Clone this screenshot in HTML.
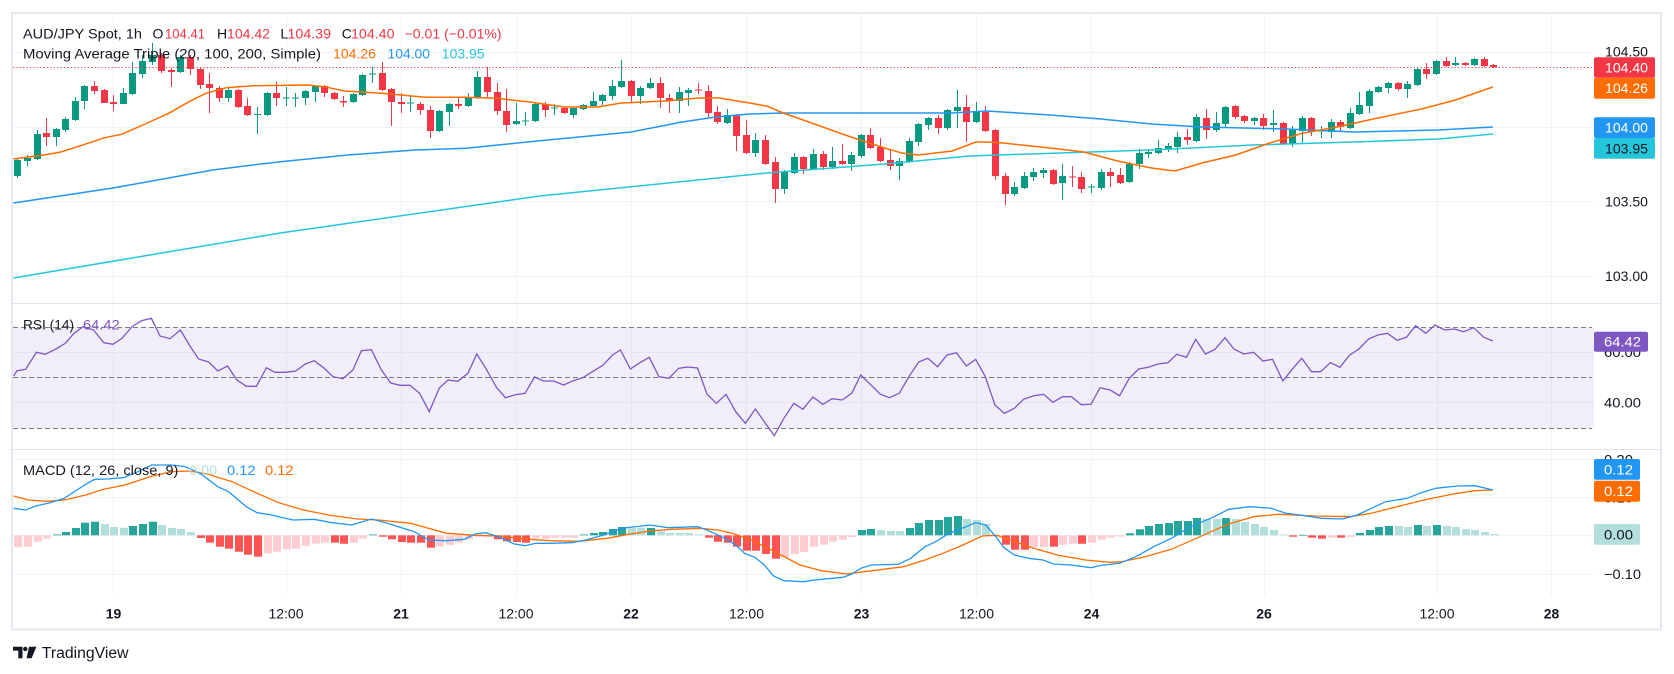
<!DOCTYPE html>
<html><head><meta charset="utf-8">
<style>
html,body{margin:0;padding:0;background:#fff;}
body{width:1674px;height:674px;overflow:hidden;}
svg{display:block;font-family:"Liberation Sans",Arial,sans-serif;}
</style></head><body>
<svg id="c" width="1674" height="674" viewBox="0 0 1674 674" xmlns="http://www.w3.org/2000/svg">
<rect width="1674" height="674" fill="#fff"/>
<!-- gridlines -->
<g stroke="#f0f3fa" stroke-width="1" fill="none">
<path d="M113.5 14V595M286.5 14V595M401.5 14V595M516.5 14V595M631.5 14V595M746.5 14V595M861.5 14V595M976.5 14V595M1091.5 14V595M1264.5 14V595M1437.5 14V595M1551.5 14V595"/>
<path d="M13 52.5H1594M13 127.5H1594M13 201.5H1594M13 276.5H1594M13 352.5H1594M13 402.5H1594M13 459.5H1594M13 497.5H1594M13 535.5H1594M13 574.5H1594"/>
</g>
<!-- RSI band -->
<rect x="13" y="327.5" width="1581" height="101" fill="rgba(126,87,194,0.1)"/>
<g stroke="#787b86" stroke-width="1" stroke-dasharray="5 3" fill="none">
<path d="M13 327.5H1592M13 377.5H1592M13 428.5H1592"/>
</g>
<!-- candles -->
<g id="cand"></g>
<!-- MAs -->
<polyline fill="none" stroke="#26c6da" stroke-width="1.5" points="13.4,278 280.3,233 539.7,196 766.5,173 884.7,164 969.2,156 1059.7,153 1151.4,150 1252.7,145 1354,142 1438.5,139 1492.9,134"/>
<polyline fill="none" stroke="#2196f3" stroke-width="1.5" points="13.4,203 111.4,188.3 212.7,170 280.3,161.7 347.8,155 415.4,150 466.1,148.3 539.7,140.7 631.4,132 682,122 715.8,117 749.6,114 783.4,113 952.3,113 986.1,111 1050,115 1100.7,119 1151.4,124 1202,127 1286.5,129 1354,132 1438.5,130 1492.9,127"/>
<polyline fill="none" stroke="#ff6d00" stroke-width="1.5" points="13.4,159 43.8,155 60.7,152 77.6,146.7 104.6,137.7 121.5,134.3 145.1,124 168.8,113.3 189,101.7 206,93.3 226.2,87.7 253.2,85.7 307.3,85 324.2,86.7 344.5,91 381.6,93.3 425.5,97.3 466.1,97.3 496.5,98.3 530,102 563.8,107 597.6,107 621.2,103 665.1,101 698.9,98 719.2,98 749.6,103 766.5,106 783.4,113 817.2,125 850.9,137 884.7,148 901.6,153 918.5,155 952.3,151 975.9,142 986.1,142 1003,143 1050,148 1083.8,152 1117.6,161 1151.4,168 1175,171 1202,163 1235.8,155 1269.6,143 1303.4,133 1337.2,127 1377.7,118 1421.6,109 1455.4,100 1492.9,87"/>
<!-- current price line -->
<path d="M13 67.5H1594" stroke="#f23645" stroke-width="1" stroke-dasharray="1.2 2.2"/>
<!-- RSI -->
<polyline fill="none" stroke="#7e57c2" stroke-width="1.3" points="13.6,376 17,370.7 25.7,369.3 36.4,352.3 45,354.3 55.4,349.3 65.4,343.3 74,333.3 82.9,326.7 93.6,330 103.6,342.7 112.9,344.3 122,338.3 132,326.7 141.4,320.7 151.4,318.3 160,336 170,338.7 180.4,330 189.3,345 198.6,359 208.6,362 217.9,371 227.5,366 237,380 246.4,386.3 256.4,386.3 266.4,367.7 275,372.3 285.7,372.3 295.7,371 305.4,364 314.3,360.7 324.3,368.3 332.9,376.7 342.9,378.7 352.9,370 361.4,350.7 371.4,349.7 381.4,370 390.7,383 400,385.3 410,385.3 419.6,393.3 429.3,411.7 439.3,388 448.2,380 457.9,381.3 467.9,373.3 476.8,354 486.4,369.3 496.4,387.3 505.4,397.7 514.3,395 525,393.3 534.6,377 543.6,381 553.6,381 563.6,385 573.2,380.7 582.9,377.7 592.9,371.3 602.9,365.3 612.5,355 620.4,350 630.4,369 640,362.7 649.3,357.3 658.9,376.7 668.9,378.3 678.6,368.3 687.5,367 697.5,368 707.1,394.3 716.4,403.3 726,394.3 735.7,411.7 745.4,423.3 755.4,409 765,422.7 774.3,435.7 783.9,418.3 793.9,403.3 802.9,409.3 812.9,397 822.9,404.3 832.1,398.7 842.1,400 851.8,393.3 860.7,375 870.7,384.7 880,394 889.3,397.7 899.3,393.3 908.9,376.7 918.6,362 927.9,358.3 937.5,366.7 947.1,355 956.4,352.7 966.4,366 975.7,359.3 985,376 995,405 1004.3,413.3 1014.3,408.3 1023.6,399.3 1033.9,395.7 1043.6,394.3 1052.9,402.3 1062.5,396.7 1071.4,396.7 1081.4,404.7 1091,404.3 1100,387.7 1110,390 1119.6,395.7 1129.3,378.3 1138.6,369 1148.2,367.3 1157.9,364 1167.9,362.7 1176.8,354.3 1186.4,357.3 1195.7,339.3 1205.4,354 1215,349.3 1225,337.7 1233.9,349 1243.6,354 1253.6,352.3 1262.9,361 1272.5,359.3 1282.9,381 1292.1,369.3 1301.8,358.3 1311.4,371.7 1320.7,371.7 1330.4,362.7 1340,367.3 1349.3,355.3 1358.9,349 1368.6,339 1377.9,335 1387.5,333.3 1397.1,340.3 1406.4,337.3 1415.7,325.7 1425.7,333.3 1435,325 1444.6,330 1454.3,329 1463.6,331.7 1473.6,327.7 1483.9,337.3 1492.9,341"/>
<!-- MACD histogram -->
<g id="hist"></g>
<polyline fill="none" stroke="#ff6d00" stroke-width="1.3" points="13.6,496 28.6,500 46.4,501.3 64.3,500 85.7,495 103.6,489.3 125,485 150,476.7 171.4,471.7 189.3,471 207.1,474 232.1,481.7 253.6,491.7 278.6,502.7 303.6,510 328.6,515 357.1,519 378.6,520 410.7,523.3 446.4,533.3 475,535.3 500,536 528.6,539.3 550,540.7 578.6,541.3 607.1,538.3 628.6,534.3 650,531 671.4,529.3 700,528.3 717.9,530 732.1,533.3 750,539.3 771.4,550 800,565 821.4,570.7 846.4,574 864.3,571.7 903.6,566.7 925,560 942.9,553.3 960.7,546 982.1,536 996.4,535.3 1010.7,540 1028.6,546.7 1057.1,555 1085.7,560 1110,562.3 1121.4,561.7 1142.9,557.3 1171.4,549.3 1200,536.7 1228.6,524 1253.6,516.7 1278.6,514.3 1314.3,516 1350,516.7 1371.4,513.3 1403.6,505 1428.6,499 1457.1,493.3 1475,490.7 1492.9,490"/>
<polyline fill="none" stroke="#2196f3" stroke-width="1.3" points="13.6,508.3 25.7,510 35.7,506 50,502.7 64.3,498.3 76.8,490 87.5,483.3 94.6,479.3 107,479 123.2,477.7 135.7,472.7 151.8,465 171.4,465 185.7,466.7 200,473.3 217.9,486.7 228.6,491.7 246.4,506.7 257,512.7 271.4,515 292.9,520 314.3,519.3 332,522.7 351.8,525 371.4,519 385.7,522.7 400,527.3 414.3,531.7 428.6,540 446.4,540.7 464.3,539.3 475,534 485.7,532.7 500,537.3 514.3,544 525,545.7 535.7,543.3 550,543.3 571.4,542.7 585.7,540 603.6,535 621.4,528.3 650,525 667.9,527.7 698.2,526.7 710.7,531.7 725,538.3 735.7,545 744.6,553.3 755.4,557.7 764.3,565 773.2,575.7 783.9,580.7 803.6,581.7 814.3,580 832.1,578.3 842.9,577.3 851.8,574 860.7,568.3 871.4,565 898.2,564.3 910.7,558.3 925,546.7 935.7,541.7 946.4,535 957.1,530 966.1,526.7 975.7,522.7 985.7,525 996.4,537.3 1003.6,547.3 1014.3,555 1028.6,558.3 1042.9,560 1053.6,564 1071.4,565 1091,567.7 1100,565.5 1119.6,563.3 1135.7,556.7 1153.6,546.7 1171.4,538.3 1189.3,527.3 1214.3,516.7 1228.6,509.3 1250,506.7 1271.4,508.3 1285.7,513.3 1300,515 1321.4,518.3 1342.9,519 1357.1,515 1385.7,501.7 1407.1,498.3 1421.4,492.7 1435.7,488.3 1457.1,486 1475,485.7 1492.9,490"/>
<!-- separators and border -->
<path d="M13 303.5H1660M13 449.5H1660" stroke="#e0e3eb" stroke-width="1"/>
<rect x="12" y="13" width="1649" height="616.5" fill="none" stroke="#e6e8ef" stroke-width="2"/>
<!-- axis labels -->
<g font-size="14" fill="#131722">
<text x="1605" y="56.7" textLength="43" lengthAdjust="spacingAndGlyphs">104.50</text>
<text x="1605" y="206.7" textLength="43" lengthAdjust="spacingAndGlyphs">103.50</text>
<text x="1605" y="281" textLength="43" lengthAdjust="spacingAndGlyphs">103.00</text>
<text x="1604" y="357" textLength="37" lengthAdjust="spacingAndGlyphs">60.00</text>
<text x="1604" y="407.5" textLength="37" lengthAdjust="spacingAndGlyphs">40.00</text>
<text x="1604" y="464.3" textLength="29" lengthAdjust="spacingAndGlyphs">0.20</text>
<text x="1604" y="502.3" textLength="29" lengthAdjust="spacingAndGlyphs">0.10</text>
<text x="1604" y="579" textLength="37" lengthAdjust="spacingAndGlyphs">−0.10</text>
</g>
<!-- value boxes -->
<rect x="1594" y="57.3" width="61" height="20.4" rx="2" fill="#f23645"/>
<rect x="1594" y="77.7" width="61" height="21" rx="2" fill="#ff6d00"/>
<rect x="1594" y="117.3" width="61" height="20.7" rx="2" fill="#2196f3"/>
<rect x="1594" y="138" width="61" height="20.7" rx="2" fill="#26c6da"/>
<rect x="1594" y="331.7" width="54" height="20" rx="2" fill="#7e57c2"/>
<rect x="1594" y="459" width="46" height="20.7" rx="2" fill="#2196f3"/>
<rect x="1594" y="480.7" width="46" height="21" rx="2" fill="#ff6d00"/>
<rect x="1594" y="524" width="46" height="20.7" rx="2" fill="#b2dfdb"/>
<g font-size="14">
<text x="1605" y="72.5" fill="#fff" textLength="43" lengthAdjust="spacingAndGlyphs">104.40</text>
<text x="1605" y="93.2" fill="#fff" textLength="43" lengthAdjust="spacingAndGlyphs">104.26</text>
<text x="1605" y="132.7" fill="#fff" textLength="43" lengthAdjust="spacingAndGlyphs">104.00</text>
<text x="1605" y="153.3" fill="#131722" textLength="43" lengthAdjust="spacingAndGlyphs">103.95</text>
<text x="1604" y="346.7" fill="#fff" textLength="37" lengthAdjust="spacingAndGlyphs">64.42</text>
<text x="1604" y="474.3" fill="#fff" textLength="29" lengthAdjust="spacingAndGlyphs">0.12</text>
<text x="1604" y="496.2" fill="#fff" textLength="29" lengthAdjust="spacingAndGlyphs">0.12</text>
<text x="1604" y="539.3" fill="#131722" textLength="29" lengthAdjust="spacingAndGlyphs">0.00</text>
</g>
<!-- legends -->
<g font-size="14" fill="#131722">
<text x="23" y="38.3" textLength="119" lengthAdjust="spacingAndGlyphs">AUD/JPY Spot, 1h</text>
<text x="152.5" y="38.3">O</text>
<text x="165" y="38.3" fill="#f23645" textLength="40" lengthAdjust="spacingAndGlyphs">104.41</text>
<text x="217" y="38.3">H</text>
<text x="227" y="38.3" fill="#f23645" textLength="43" lengthAdjust="spacingAndGlyphs">104.42</text>
<text x="280.4" y="38.3">L</text>
<text x="287.5" y="38.3" fill="#f23645" textLength="43.5" lengthAdjust="spacingAndGlyphs">104.39</text>
<text x="341.8" y="38.3">C</text>
<text x="351" y="38.3" fill="#f23645" textLength="43.5" lengthAdjust="spacingAndGlyphs">104.40</text>
<text x="404.6" y="38.3" fill="#f23645" textLength="97" lengthAdjust="spacingAndGlyphs">−0.01 (−0.01%)</text>
<text x="23" y="58.3" textLength="298" lengthAdjust="spacingAndGlyphs">Moving Average Triple (20, 100, 200, Simple)</text>
<text x="333" y="58.3" fill="#ff6d00" textLength="43" lengthAdjust="spacingAndGlyphs">104.26</text>
<text x="387.5" y="58.3" fill="#2196f3" textLength="42.5" lengthAdjust="spacingAndGlyphs">104.00</text>
<text x="441.8" y="58.3" fill="#26c6da" textLength="42.8" lengthAdjust="spacingAndGlyphs">103.95</text>
<text x="23" y="329.3" textLength="51" lengthAdjust="spacingAndGlyphs">RSI (14)</text>
<text x="83" y="329.3" fill="#7e57c2" textLength="36.7" lengthAdjust="spacingAndGlyphs">64.42</text>
<text x="23" y="475" textLength="155.4" lengthAdjust="spacingAndGlyphs">MACD (12, 26, close, 9)</text>
<text x="189.3" y="475" fill="#b2dfdb" textLength="27.7" lengthAdjust="spacingAndGlyphs">0.00</text>
<text x="227" y="475" fill="#2196f3" textLength="28.7" lengthAdjust="spacingAndGlyphs">0.12</text>
<text x="265" y="475" fill="#ff6d00" textLength="28.6" lengthAdjust="spacingAndGlyphs">0.12</text>
</g>
<!-- time axis -->
<g font-size="14" fill="#131722" text-anchor="middle">
<text x="113.5" y="618.3" font-weight="bold">19</text>
<text x="286" y="618.3">12:00</text>
<text x="401" y="618.3" font-weight="bold">21</text>
<text x="516" y="618.3">12:00</text>
<text x="631" y="618.3" font-weight="bold">22</text>
<text x="746.5" y="618.3">12:00</text>
<text x="861.5" y="618.3" font-weight="bold">23</text>
<text x="976.5" y="618.3">12:00</text>
<text x="1091.5" y="618.3" font-weight="bold">24</text>
<text x="1264" y="618.3" font-weight="bold">26</text>
<text x="1437" y="618.3">12:00</text>
<text x="1551.5" y="618.3" font-weight="bold">28</text>
</g>
<!-- TradingView logo -->
<g fill="#131722">
<path d="M13 646.7H22.5V658.3H18.3V650.6H13Z"/>
<circle cx="25.3" cy="649" r="2.2"/>
<path d="M29 646.7H36.4L31.6 658.3H26.6Z"/>
<text x="41.8" y="658" font-size="15.5" textLength="86.7" lengthAdjust="spacingAndGlyphs">TradingView</text>
</g>
</svg>
<script>
(function(){
var ns="http://www.w3.org/2000/svg";
var C=[[176,160,158,178],[161,158,155,166],[159,134,130,160],[133,137,118,146],[137,129,128,146],[130,119,117,132],[120,101,97,121],[101,86,85,109],[86,91,81,94],[90,103,89,103],
[102,104,95,111],[104,93,88,104],[94,73,62,95],[74,61,55,78],[62,55,43,65],[55,71,53,73],[70,72,68,87],[72,57,55,73],[57,69,55,75],[69,85,68,89],
[84,88,73,113],[88,98,86,102],[98,90,88,102],[90,107,89,108],[106,115,98,116],[114.5,114,107,134],[115,93,92,116],[93,98,82,106],[98.5,97.5,87,106],[98.5,97.5,93,107],
[98,91,90,105],[92,86,85,102],[86,93,85,97],[93,99,92,100],[101,102.5,96,107],[102,94,93,103],[95,75,74,96],[74.5,73.5,67,83],[73,90,62,91],[89,102,88,126],
[102,104,93,113],[103.5,102.5,95,112],[104,110,102,115],[110,131,106,138],[131,111,110,132],[112,104,103,126],[104,106,97,109],[106,97,93,107],[98,77,71,99],[77,92,67,97],
[92,111,83,115],[111,125,89,132],[124,121,103,125],[121.5,120.5,112,126],[121,104,103,122],[104,110,102,117],[108.5,107.5,104,115],[108,113,107,114],[115,108,106,118],[109,105,104,110],
[106,101,92,107],[101,95,94,105],[96,86,80,100],[87,81,60,88],[81,96,80,102],[96,88,86,104],[88,83,78,89],[83,98,77,108],[98,101,94,113],[101,92,87,113],
[93,90,88,106],[89.5,90.5,83,94],[91,113,85,118],[112,122,106,124],[123,115,109,124],[115,136,114,151],[135,153,120,154],[153,140,133,157],[140,164,135,165],[162,189,157,203],
[189,172,170,194],[173,157,153,174],[157,169,156,174],[169,154,149,170],[154,167,151,170],[167,161,147,169],[161,164,144,165],[164,155,152,171],[156,135,134,158],[135,148,128,149],
[147,161,138,162],[160,166,149,170],[166,161,158,180],[162,141,138,163],[142,124,123,146],[125,118,117,130],[118,128,115,134],[128,110,109,130],[111,107,90,128],[107,122,95,142],
[122,112,102,123],[112,131,106,132],[130,176,129,180],[176,194,173,205],[194,187,182,196],[188,176,172,189],[177,172,168,181],[173,170,168,178],[170,184,169,185],[183,176,164,200],
[176.5,177.5,166,187],[177,189,172,193],[187.5,186.5,184,193],[188,172,169,190],[172,176,168,187],[175,183,168,184],[182,164,162,183],[164,153,149,169],[154,152,149,158],[153,148,140,154],
[149,146,143,152],[147,137,132,153],[137,140,129,145],[141,117,114,142],[118,130,109,139],[130,123,112,132],[124,107,106,127],[106,117,105,119],[116,121,115,123],[121,118,117,125],
[118,126,114,130],[125,123,110,132],[123,144,122,145],[144,130,126,147],[131,118,116,144],[118,132,117,136],[131.5,130.5,126,138],[132,122,119,138],[122,127,120,132],[128,113,108,129],
[114,105,92,115],[106,91,89,113],[92,87,86,93],[88,83,82,93],[83,89,82,91],[89,84,81,98],[85,69,68,86],[69,74,63,79],[74,61,60,75],[61,66,57,67],
[65,63,57,66],[63,65,62,66],[65,59,58,66],[59,66,57,67],[65,67,64,68]];
var H=[[547,'r'],[546.7,'r'],[541.7,'r'],[538.7,'r'],[534.5,'G'],[532,'G'],[528,'G'],[522.7,'G'],[521.7,'G'],[524,'g'],
[527,'g'],[527.7,'g'],[526,'G'],[524,'G'],[521.7,'G'],[525,'g'],[528,'g'],[529,'g'],[532,'g'],[538,'R'],
[542.7,'R'],[546.7,'R'],[548.7,'R'],[551.7,'R'],[554.7,'R'],[556.7,'R'],[553.3,'r'],[551.7,'r'],[549.3,'r'],[548.7,'r'],
[546,'r'],[543.7,'r'],[542.7,'r'],[542.7,'R'],[543.7,'R'],[542.7,'r'],[538.7,'r'],[534.5,'G'],[536.7,'R'],[539.3,'R'],
[542,'R'],[542.7,'R'],[542.7,'R'],[547.7,'R'],[546.7,'r'],[545,'r'],[542.7,'r'],[539.3,'r'],[536.7,'r'],[537,'r'],
[539.3,'R'],[541.3,'R'],[542,'R'],[542.7,'R'],[538.7,'r'],[538.7,'r'],[537.7,'r'],[537.7,'r'],[537.7,'r'],[534.5,'G'],
[533,'G'],[532,'G'],[529,'G'],[527,'G'],[528,'g'],[527.7,'g'],[528,'G'],[531.3,'g'],[533,'g'],[533,'g'],
[533,'g'],[534.3,'g'],[537.7,'R'],[541.7,'R'],[542.7,'R'],[546.7,'R'],[550.7,'R'],[550.7,'R'],[554,'R'],[558.7,'R'],
[557.3,'r'],[554,'r'],[552,'r'],[546.7,'r'],[544.7,'r'],[541.7,'r'],[539.7,'r'],[537,'r'],[530,'G'],[529,'G'],
[530,'g'],[531,'g'],[531,'g'],[528,'G'],[523,'G'],[520,'G'],[520,'G'],[517,'G'],[516,'G'],[519,'g'],
[520,'g'],[524,'g'],[536,'R'],[544.7,'R'],[549.7,'R'],[549.7,'R'],[547,'r'],[547,'r'],[546.7,'R'],[544.7,'r'],
[543.7,'r'],[543.7,'R'],[542.7,'r'],[539.7,'r'],[537.7,'r'],[536.7,'r'],[533.3,'G'],[529.3,'G'],[526,'G'],[524,'G'],
[523,'G'],[521,'G'],[521,'G'],[518,'G'],[519,'g'],[519,'g'],[518,'G'],[519,'g'],[522,'g'],[524,'g'],
[527,'g'],[530,'g'],[534.5,'g'],[536.7,'R'],[534.8,'G'],[537.7,'R'],[538.7,'R'],[537.7,'r'],[537.7,'R'],[537,'r'],
[533,'G'],[530,'G'],[527,'G'],[526,'G'],[526,'g'],[527,'g'],[525,'G'],[526,'g'],[525,'G'],[526,'g'],
[527,'g'],[529,'g'],[530,'g'],[532,'g'],[534,'g']];
var HC={G:'#26a69a',g:'#b2dfdb',R:'#ff5252',r:'#ffcdd2'};
function R(p,x,y,w,h,f){var e=document.createElementNS(ns,'rect');e.setAttribute('x',x);e.setAttribute('y',y);e.setAttribute('width',w);e.setAttribute('height',h);e.setAttribute('fill',f);p.appendChild(e);}
var gC=document.getElementById('cand'),gH=document.getElementById('hist');
for(var i=0;i<C.length;i++){
 var cx=Math.round(17.4+9.585*i),d=C[i],o=d[0],c=d[1],h=d[2],l=d[3];
 var col=(o>=c)?'#089981':'#f23645';
 R(gC,cx,h,1,Math.max(1,l-h),col);
 var top=Math.min(o,c),bh=Math.max(1,Math.abs(o-c));
 R(gC,cx-3,top,7,bh,col);
}
var z=535.3;
for(var j=0;j<H.length;j++){
 var cx2=Math.round(17.4+9.585*j),v=H[j][0];
 var t=Math.min(v,z),hh=Math.max(0.8,Math.abs(v-z));
 R(gH,cx2-3,t,8,hh,HC[H[j][1]]);
}
})();
</script>
</body></html>
